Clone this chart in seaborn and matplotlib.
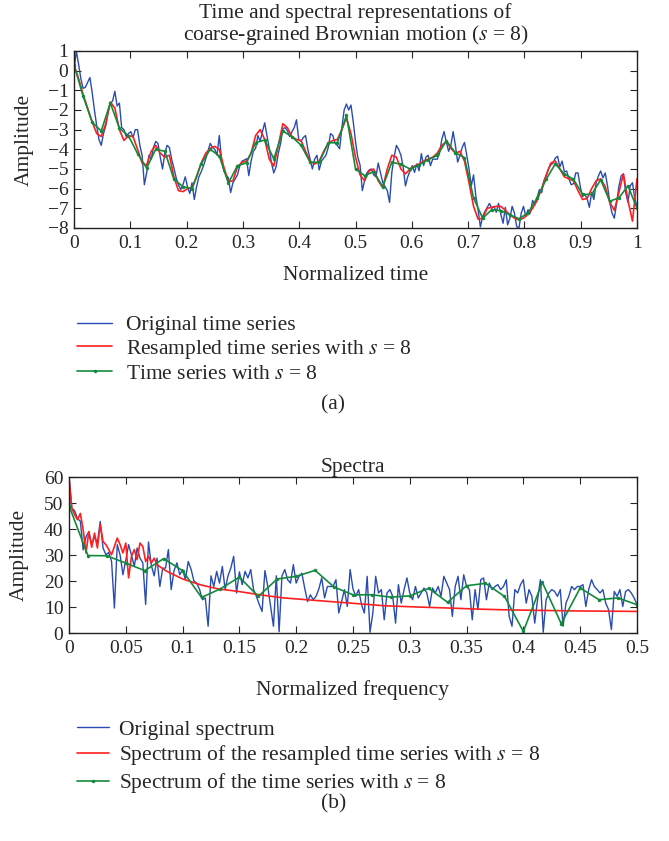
import matplotlib
matplotlib.use("Agg")
import matplotlib.pyplot as plt
import numpy as np
import seaborn as sns

# ---- panel (a): time series ----
orig_series = [
    0.0, 1.0, 0.35, -0.4, -0.9, -0.85, -0.6, -0.35, -1.1, -2.0, -2.8, -3.5,
    -3.8, -3.2, -2.8, -2.1, -1.65, -1.55, -1.05, -1.8, -1.65, -2.9, -3.0, -3.35,
    -3.2, -3.1, -3.4, -3.0, -3.0, -3.8, -4.3, -5.8, -5.2, -4.3, -4.5, -3.9,
    -3.6, -3.7, -4.4, -5.0, -4.2, -3.8, -3.9, -4.5, -4.95, -5.45, -5.8, -6.05,
    -5.8, -5.4, -5.9, -6.25, -5.7, -6.55, -5.9, -5.4, -5.15, -4.85, -4.5, -4.1,
    -3.7, -3.9, -4.0, -4.3, -3.3, -4.5, -5.1, -5.3, -5.45, -6.2, -5.7, -5.5,
    -5.3, -4.85, -4.6, -4.55, -4.48, -5.34, -4.6, -4.1, -3.95, -3.3, -3.6, -3.1,
    -2.65, -3.3, -3.95, -4.7, -5.2, -4.9, -4.2, -3.7, -2.95, -2.9, -3.05, -3.35,
    -3.1, -2.9, -2.5, -3.5, -3.6, -3.4, -3.3, -4.0, -4.5, -5.0, -4.5, -4.3,
    -5.05, -4.6, -4.45, -4.3, -3.9, -3.2, -3.3, -3.7, -3.8, -3.97, -2.9, -2.0,
    -1.7, -2.0, -1.75, -2.6, -3.6, -4.4, -4.8, -6.1, -5.6, -5.2, -5.05, -5.0,
    -5.3, -5.4, -4.7, -5.2, -5.69, -5.9, -6.1, -6.7, -5.17, -4.4, -3.8, -4.0,
    -4.3, -4.9, -5.86, -5.4, -5.1, -4.83, -5.17, -4.74, -5.09, -4.22, -4.83, -4.4,
    -4.3, -4.83, -4.5, -4.5, -4.5, -4.2, -3.5, -3.1, -3.62, -4.1, -3.8, -3.1,
    -3.8, -4.65, -4.3, -3.9, -3.65, -4.3, -5.0, -5.86, -5.3, -6.38, -7.07, -7.95,
    -7.41, -7.16, -6.95, -6.75, -7.0, -6.9, -7.2, -6.75, -7.3, -7.76, -6.95, -7.84,
    -7.5, -6.9, -7.24, -7.93, -8.0, -7.24, -6.9, -7.4, -7.07, -7.24, -6.6, -6.8,
    -6.45, -6.05, -6.2, -5.6, -5.35, -5.0, -4.8, -4.7, -4.45, -4.35, -4.9, -4.6,
    -5.15, -5.1, -5.5, -5.8, -5.75, -5.2, -5.2, -5.9, -6.4, -6.3, -6.5, -6.95,
    -6.2, -6.55, -5.7, -5.35, -5.1, -5.45, -5.2, -5.85, -6.7, -7.25, -7.5, -6.75,
    -5.9, -5.35, -5.25, -6.2, -6.7, -5.85, -5.7, -6.5, -6.9,
]

resampled_series = [
    0.3, -0.4, -1.2, -1.9, -2.6, -3.2, -3.35, -2.7, -1.6, -1.9, -3.0, -3.55,
    -3.3, -3.35, -4.0, -4.7, -4.8, -4.1, -3.8, -4.2, -4.4, -4.3, -5.4, -6.1,
    -6.15, -6.0, -5.95, -5.4, -4.7, -4.2, -3.95,
    -3.85, -4.0, -4.9, -5.65, -5.6, -4.9, -4.66, -4.6, -4.2, -3.3, -3.0, -3.5,
    -4.5, -4.85, -3.8, -2.7, -2.9, -3.36, -3.5, -3.55, -4.1, -4.6, -4.75, -4.6,
    -4.1, -3.7, -3.55, -3.5, -3.0, -2.4, -3.2, -4.4,
    -5.3, -5.6, -5.1, -5.0, -5.6, -5.95, -5.0, -4.3, -4.4, -5.0, -5.25, -5.0,
    -4.85, -4.75, -4.6, -4.5, -4.4, -4.2, -3.8, -3.6, -3.95, -4.2, -4.1, -4.6,
    -5.7, -6.9, -7.55, -7.5, -7.0, -6.95,
    -6.9, -6.9, -7.1, -7.33, -7.5, -7.59, -7.5, -7.3, -7.0, -6.6, -6.0, -5.3,
    -4.7, -4.6, -5.0, -5.4, -5.5, -5.6, -6.1, -6.55, -6.5, -6.0, -5.6, -5.5,
    -5.9, -6.7, -7.1, -6.2, -5.25, -6.6, -7.65, -5.5,
]

coarse_series = [
    0.31, -1.29, -2.62, -3.07, -1.64, -2.93, -3.31, -4.22, -4.95, -4.0, -4.1,
    -5.52, -5.9, -6.0, -4.74, -4.0,
    -4.34, -5.72, -4.83, -4.69, -3.66, -3.53, -4.48, -3.07, -3.36, -3.79,
    -4.66, -4.66, -3.67, -3.66, -2.28,
    -5.0, -5.34, -5.14, -5.9, -4.66, -4.76, -5.0, -4.79, -4.53, -4.31, -3.57,
    -4.17, -4.43, -6.47, -7.5, -7.07,
    -7.12, -7.33, -7.53, -7.24, -6.47, -5.52, -4.74, -5.26, -5.52, -6.29,
    -6.29, -5.55, -6.64, -6.47, -5.86, -7.0,
]

# ---- panel (b): spectra ----
orig_spectrum = [
    60, 48, 47, 44, 43, 32, 37, 39, 34, 37, 34.6, 42.9, 32.7, 30.1, 31, 27.5,
    9.6, 34, 30, 22.4, 28, 34, 30, 25.6, 32.7, 28.8, 27, 11, 35, 26, 22, 28.8,
    17.9, 24.9, 25, 32.1, 16.7, 24, 27, 22.4, 24.4, 20.5, 27.5, 24.5, 20, 19.2,
    16.7, 12.8, 13.5, 2.6, 22, 17.9, 23.7, 19.2, 25.6, 16.7, 22, 25, 29.5, 15.4,
    23.5, 18.6, 23.7, 21.2, 24.4, 16.7, 14.1, 11, 8.3, 24, 17.9, 10.2, 2.6, 22,
    0.5, 22, 24.4, 20.5, 19.2, 26.3, 19.2, 21.8, 23, 17.3, 12.1, 14.7, 12.8,
    14.1, 17, 21.2, 13.5, 17.9, 17.9, 17.9, 20.5, 7.7, 12.1, 16.7, 10.2, 24.4,
    17, 14.1, 16.7, 11, 7.7, 21.8, 0.3, 7.7, 21.8, 15.4, 16.7, 5.1, 15.4, 16.7,
    14.1, 3.8, 18.6, 11.5, 16.7, 21.2, 15.4, 12.8, 17.9, 13.5, 15.4, 17.3, 15.4,
    10.2, 17.3, 15.4, 17.9, 14.1, 21.8, 19.2, 16.7, 6.4, 17.9, 21.8, 12.8, 22.4,
    17.9, 16.7, 5.1, 16.7, 9, 20.5, 21.2, 12.8, 19.2, 16.7, 17.9, 18.6, 16.7,
    17.9, 20.5, 6.4, 2.6, 16.7, 15.4, 18.6, 20.5, 11.5, 16.7, 14.1, 3.8, 12.8,
    20.5, 0.3, 12.8, 15.4, 16.7, 16, 14.1, 16.7, 2.6, 11.5, 14.1, 17.9, 16.7,
    17.9, 17.9, 18.6, 10.2, 16.7, 20.5, 17.9, 16.7, 15.4, 16.7, 11.5, 9, 1.3,
    16, 14.1, 16.7, 10.2, 16, 16.7, 15.4, 13.5, 11,
]

resampled_spec_low = [
    60, 48, 45.5, 43.6, 46, 39.7, 30.8, 39, 33, 38.4, 32.7, 41.7, 35.2, 34,
    32.1, 30.1, 33.3, 36.5, 34, 30.8, 34.6, 21.2, 29.5, 32.1, 28.2, 34.6, 33.3,
    27.5, 29.5, 26.9, 28.8, 26.3,
]
resampled_tail_freq = [0.085, 0.1, 0.116, 0.131, 0.149, 0.168, 0.189, 0.218,
                       0.248, 0.277, 0.307, 0.335, 0.36, 0.386, 0.415, 0.445,
                       0.475, 0.5]
resampled_tail = [24.0, 20.8, 18.5, 17.0, 16.0, 14.7, 13.5, 12.5, 11.5, 10.5,
                  10.0, 9.6, 9.2, 8.9, 8.7, 8.5, 8.4, 8.3]

coarse_spectrum = [
    49, 29.8, 29.7, 26.9, 24.0, 28.6, 24.0, 13.7, 17.0, 21.5, 14.1, 20.8, 21.8,
    24.1, 17.7, 14.7, 14.7, 13.8, 14.3, 17.2, 11.8, 18.2, 19.1, 14.1, 0.6, 19.5,
    3.6, 17.3, 12.8, 13.5, 10.9,
]

BLUE = "#2a4cb0"
RED = "#ff1f1f"
GREEN = "#138a3a"

sns.set_style("ticks")
plt.rcParams["font.family"] = ["Liberation Serif", "DejaVu Serif"]
plt.rcParams["mathtext.fontset"] = "stix"

fig = plt.figure(figsize=(6.69, 8.41), dpi=100)
ax1 = fig.add_axes([0.1106, 0.7289, 0.8416, 0.2105])
ax2 = fig.add_axes([0.1031, 0.2473, 0.849, 0.1855])

fs = 15.5
tfs = 14

# panel (a)
t_orig = np.linspace(0, 1, len(orig_series))
t_res = np.linspace(0, 1, len(resampled_series))
t_coarse = np.linspace(0, 1, len(coarse_series))
sns.lineplot(x=t_orig, y=orig_series, ax=ax1, color=BLUE, lw=1.0)
sns.lineplot(x=t_res, y=resampled_series, ax=ax1, color=RED, lw=1.2)
sns.lineplot(x=t_coarse, y=coarse_series, ax=ax1, color=GREEN, lw=1.2,
             marker="o", markersize=2.5, markeredgewidth=0)
ax1.set_xlim(0, 1)
ax1.set_ylim(-8, 1)
ax1.set_xticks(np.arange(0, 1.01, 0.1))
ax1.set_xticklabels(["0", "0.1", "0.2", "0.3", "0.4", "0.5", "0.6", "0.7",
                     "0.8", "0.9", "1"])
ax1.set_yticks(np.arange(-8, 2, 1))
ax1.set_title("Time and spectral representations of\n"
              "coarse-grained Brownian motion ($s$ = 8)", fontsize=fs,
              linespacing=1.0, pad=8)
ax1.set_xlabel("Normalized time", fontsize=fs, labelpad=10)
ax1.set_ylabel("Amplitude", fontsize=fs, labelpad=10)

# panel (b)
f_orig = np.linspace(0, 0.5, len(orig_spectrum))
f_low = f_orig[:len(resampled_spec_low)]
f_res = np.concatenate([f_low, resampled_tail_freq])
v_res = np.concatenate([resampled_spec_low, resampled_tail])
f_coarse = np.linspace(0, 0.5, len(coarse_spectrum))
sns.lineplot(x=f_orig, y=orig_spectrum, ax=ax2, color=BLUE, lw=1.0)
sns.lineplot(x=f_res, y=v_res, ax=ax2, color=RED, lw=1.2)
sns.lineplot(x=f_coarse, y=coarse_spectrum, ax=ax2, color=GREEN, lw=1.2,
             marker="o", markersize=2.5, markeredgewidth=0)
ax2.set_xlim(0, 0.5)
ax2.set_ylim(0, 60)
ax2.set_xticks(np.arange(0, 0.51, 0.05))
ax2.set_xticklabels(["0", "0.05", "0.1", "0.15", "0.2", "0.25", "0.3",
                     "0.35", "0.4", "0.45", "0.5"])
ax2.set_yticks(np.arange(0, 61, 10))
ax2.set_title("Spectra", fontsize=fs, pad=3)
ax2.set_xlabel("Normalized frequency", fontsize=fs, labelpad=17)
ax2.set_ylabel("Amplitude", fontsize=fs, labelpad=11)

for ax in (ax1, ax2):
    ax.tick_params(axis="both", which="both", direction="in", top=True,
                   right=True, labelsize=tfs, length=5, width=0.8, pad=5)
    for sp in ax.spines.values():
        sp.set_visible(True)
        sp.set_linewidth(1.0)
        sp.set_color("#222222")
    ax.yaxis.set_tick_params(pad=4)

h_blue = plt.Line2D([], [], color=BLUE, lw=1.0)
h_red = plt.Line2D([], [], color=RED, lw=1.2)
h_green = plt.Line2D([], [], color=GREEN, lw=1.2, marker="o", markersize=2.5,
                     markeredgewidth=0)

fig.legend([h_blue, h_red, h_green],
           ["Original time series", "Resampled time series with $s$ = 8",
            "Time series with $s$ = 8"],
           loc="upper left", bbox_to_anchor=(0.1151, 0.625), frameon=False,
           fontsize=fs, handlelength=1.63, handletextpad=0.65,
           labelspacing=0.12, borderaxespad=0, borderpad=0)
fig.legend([h_blue, h_red, h_green],
           ["Original spectrum",
            "Spectrum of the resampled time series with $s$ = 8",
            "Spectrum of the time series with $s$ = 8"],
           loc="upper left", bbox_to_anchor=(0.1151, 0.1445), frameon=False,
           fontsize=fs, handlelength=1.5, handletextpad=0.45,
           labelspacing=0.18, borderaxespad=0, borderpad=0)

fig.text(0.498, 0.519, "(a)", ha="center", va="center", fontsize=fs)
fig.text(0.498, 0.044, "(b)", ha="center", va="center", fontsize=fs)

fig.savefig("out.png", dpi=100)
